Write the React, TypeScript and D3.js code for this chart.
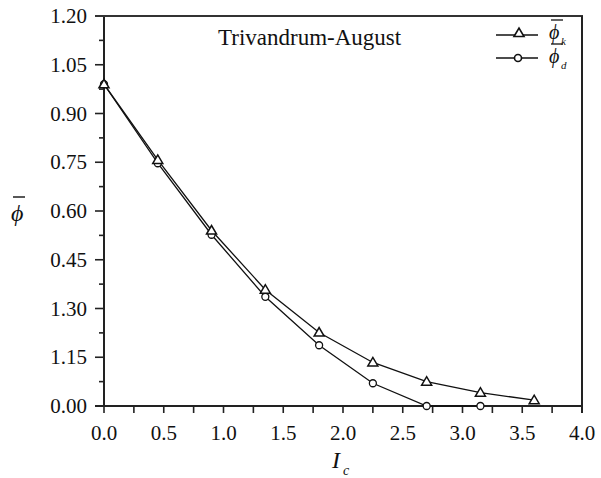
import React from "react";
import * as d3 from "d3";

const xValues = [0, 0.45, 0.9, 1.35, 1.8, 2.25, 2.7, 3.15, 3.6];
const phiK = [0.99, 0.757, 0.54, 0.358, 0.226, 0.134, 0.075, 0.041, 0.018];
const phiD = [0.99, 0.747, 0.527, 0.336, 0.187, 0.07, 0.0, 0.0];
const xTicks = [0, 0.5, 1, 1.5, 2, 2.5, 3, 3.5, 4];
const xTickLabels = ["0.0", "0.5", "1.0", "1.5", "2.0", "2.5", "3.0", "3.5", "4.0"];
const yTicks = [0, 0.15, 0.3, 0.45, 0.6, 0.75, 0.9, 1.05, 1.2];
const yTickLabels = ["0.00", "1.15", "1.30", "0.45", "0.60", "0.75", "0.90", "1.05", "1.20"];
const title = "Trivandrum-August";

const W = 601, H = 478;
const L = 104, R = 582, T = 16, B = 406;
const FONT = "Liberation Serif, Tinos, Times New Roman, Times, DejaVu Serif, serif";
const PHI = "\u03D5";

export default function App() {
  const x = d3.scaleLinear().domain([0, 4]).range([L, R]);
  const y = d3.scaleLinear().domain([0, 1.2]).range([B, T]);
  const line = d3.line<[number, number]>().x(d => x(d[0])).y(d => y(d[1]));
  const kData: [number, number][] = phiK.map((v, i) => [xValues[i], v]);
  const dData: [number, number][] = phiD.map((v, i) => [xValues[i], v]);
  const xMinor = d3.range(0, 4.001, 0.25);
  const yMinor = d3.range(0, 1.2001, 0.075);
  const stroke = "#111";
  const tri = (cx: number, cy: number) =>
    `M${cx - 5},${cy + 3.5} L${cx},${cy - 5} L${cx + 5},${cy + 3.5} Z`;
  const ts = { fontFamily: FONT } as React.CSSProperties;

  return (
    <svg width={W} height={H} style={{ position: "absolute", left: 0, top: 0, background: "#fff" }}>
      <rect x={0} y={0} width={W} height={H} fill="#fff" />
      {yMinor.map((v, i) => (
        <line key={"ym" + i} x1={L - (i % 2 === 0 ? 9 : 5)} x2={L} y1={y(v)} y2={y(v)} stroke="#222" strokeWidth={1.6} />
      ))}
      {xMinor.map((v, i) => (
        <line key={"xm" + i} x1={x(v)} x2={x(v)} y1={B} y2={B + 7} stroke="#222" strokeWidth={1.6} />
      ))}
      <line x1={L} x2={L} y1={T} y2={B} stroke="#222" strokeWidth={2} />
      <line x1={L - 9} x2={R + 1} y1={T} y2={T} stroke="#333" strokeWidth={2} />
      <line x1={R} x2={R} y1={T} y2={B + 7} stroke="#222" strokeWidth={2} />
      <line x1={L - 9} x2={R} y1={B} y2={B} stroke="#222" strokeWidth={2} />
      {yTicks.map((v, i) => (
        <text key={"yl" + i} x={87} y={y(v) + 7} textAnchor="end" style={ts} fontSize={21} fill="#111">
          {yTickLabels[i]}
        </text>
      ))}
      {xTicks.map((v, i) => (
        <text key={"xl" + i} x={x(v)} y={440} textAnchor="middle" style={ts} fontSize={21} fill="#111">
          {xTickLabels[i]}
        </text>
      ))}
      <text x={11} y={221} style={ts} fontSize={24} fontStyle="italic" fill="#111">{PHI}</text>
      <line x1={13} x2={25} y1={197} y2={197} stroke="#111" strokeWidth={1.4} />
      <text x={332} y={468} style={ts} fontSize={24} fontStyle="italic" fill="#111">I</text>
      <text x={343} y={475} style={ts} fontSize={14} fontStyle="italic" fill="#111">c</text>
      <text x={218} y={45} style={ts} fontSize={23} fill="#111">{title}</text>
      <path d={line(kData) || ""} fill="none" stroke={stroke} strokeWidth={1.3} />
      <path d={line(dData) || ""} fill="none" stroke={stroke} strokeWidth={1.3} />
      {dData.map((d, i) => (
        <circle key={"c" + i} cx={x(d[0])} cy={y(d[1])} r={3.5} fill="#fff" stroke={stroke} strokeWidth={1.3} />
      ))}
      {kData.map((d, i) => (
        <path key={"t" + i} d={tri(x(d[0]), y(d[1]))} fill="#fff" stroke={stroke} strokeWidth={1.5} />
      ))}
      <line x1={496} x2={538} y1={35} y2={35} stroke={stroke} strokeWidth={1.6} />
      <path d={tri(519, 33)} fill="#fff" stroke={stroke} strokeWidth={1.6} />
      <text x={549} y={39} style={ts} fontSize={20} fontStyle="italic" fill="#111">{PHI}</text>
      <text x={561} y={45} style={ts} fontSize={11} fontStyle="italic" fill="#111">k</text>
      <line x1={551} x2={563} y1={20} y2={20} stroke="#111" strokeWidth={1.3} />
      <line x1={496} x2={538} y1={58} y2={58} stroke={stroke} strokeWidth={1.6} />
      <circle cx={518} cy={58} r={3.5} fill="#fff" stroke={stroke} strokeWidth={1.6} />
      <text x={549} y={63} style={ts} fontSize={20} fontStyle="italic" fill="#111">{PHI}</text>
      <text x={561} y={69} style={ts} fontSize={11} fontStyle="italic" fill="#111">d</text>
      <line x1={551} x2={563} y1={44} y2={44} stroke="#111" strokeWidth={1.3} />
    </svg>
  );
}
